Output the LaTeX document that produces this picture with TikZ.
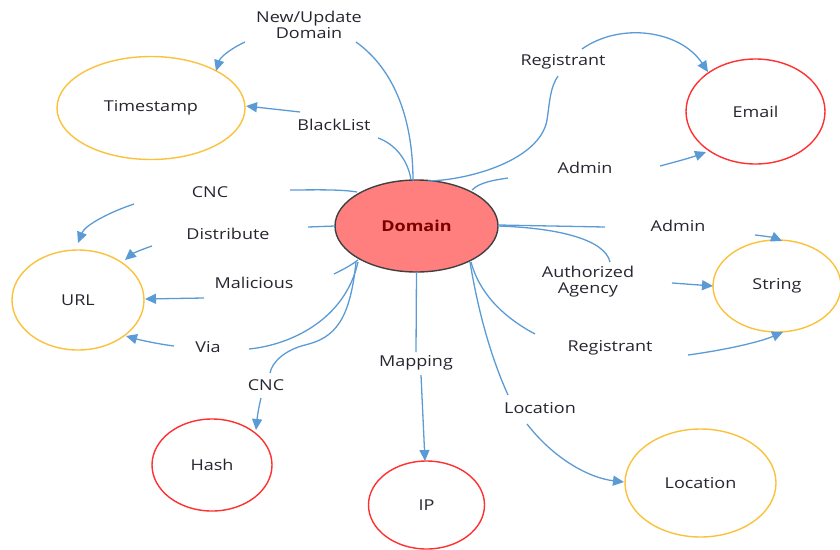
\documentclass[tikz,border=0pt]{standalone}
\usepackage{fontspec}
\setmainfont{Open Sans}[FakeStretch=1.2]
\usetikzlibrary{shapes.geometric,arrows.meta}
\definecolor{lineblue}{HTML}{5B9BD5}
\definecolor{ylw}{HTML}{FAC23A}
\definecolor{rd}{HTML}{FF3030}
\definecolor{domfill}{HTML}{FF7F7F}
\definecolor{domtext}{HTML}{7A0000}
\definecolor{txt}{HTML}{262630}
\tikzset{
  ent/.style={ellipse, draw, line width=1.4pt, inner sep=0pt, text=txt, font=\fontsize{15}{17}\selectfont},
  yent/.style={ent, draw=ylw},
  rent/.style={ent, draw=rd},
  lbl/.style={text=txt, font=\fontsize{15}{18}\selectfont, align=center, inner sep=1pt},
  link/.style={draw=lineblue, line width=1.3pt},
  arr/.style={link, -{Triangle[length=11pt,width=10pt]}}
}
\begin{document}
\begin{tikzpicture}[x=1pt,y=-1pt]
\useasboundingbox (0,0) rectangle (840,549);
% entities
\node[ent, fill=domfill, draw=black!75, minimum width=163pt, minimum height=92pt, text=domtext, font=\fontsize{15}{17}\selectfont\bfseries] (dom) at (416.5,226) {Domain};
\node[yent, minimum width=188pt, minimum height=103pt] (ts) at (151,108) {Timestamp};
\node[rent, minimum width=139pt, minimum height=105pt] (email) at (755.5,111.5) {Email};
\node[yent, minimum width=132pt, minimum height=100pt] (url) at (78,300) {URL};
\node[yent, minimum width=128pt, minimum height=92pt] (str) at (777,286) {String};
\node[rent, minimum width=120pt, minimum height=92pt] (hash) at (212,465) {Hash};
\node[rent, minimum width=116pt, minimum height=88pt] (ip) at (426.5,505) {IP};
\node[yent, minimum width=151pt, minimum height=108pt] (loc) at (700.5,483) {Location};
% labels
\node[lbl] (lnu) at (309,25) {New/Update\\[-2pt]Domain};
\node[lbl] (lbl1) at (334,125) {BlackList};
\node[lbl] (lcnc1) at (210,192) {CNC};
\node[lbl] (ldist) at (228,234) {Distribute};
\node[lbl] (lmal) at (254,283) {Malicious};
\node[lbl] (lvia) at (208,347) {Via};
\node[lbl] (lcnc2) at (266,385) {CNC};
\node[lbl] (lmap) at (416,363) {Mapping};
\node[lbl] (lloc) at (540,408) {Location};
\node[lbl] (lreg2) at (610,348) {Registrant};
\node[lbl] (laa) at (588,282) {Authorized\\[-2pt]Agency};
\node[lbl] (ladm2) at (678,226) {Admin};
\node[lbl] (ladm1) at (585,168) {Admin};
\node[lbl] (lreg1) at (563,62) {Registrant};
% endpoints
\coordinate (a1) at (413,181);  \coordinate (b1) at (356,42);
\coordinate (c1) at (245,42);   \coordinate (e1) at (216,71);
\coordinate (a2) at (411,180);  \coordinate (b2) at (378,138);
\coordinate (c2) at (300,112);  \coordinate (e2) at (246,106);
\coordinate (a3) at (357,192);  \coordinate (b3) at (290,190);
\coordinate (c3) at (134,204);  \coordinate (e3) at (78,243);
\coordinate (a4) at (335,226);  \coordinate (b4) at (308,227);
\coordinate (c4) at (152,246);  \coordinate (e4) at (125,260);
\coordinate (a5) at (358,260);  \coordinate (b5) at (334,274);
\coordinate (c5) at (204,298);  \coordinate (e5) at (145,299);
\coordinate (a6) at (358,262);  \coordinate (b6) at (249,349);
\coordinate (c6) at (174,346);  \coordinate (e6) at (126,336);
\coordinate (a7) at (356,262);  \coordinate (b7) at (270,373);
\coordinate (c7) at (261,398);  \coordinate (e7) at (256,430);
\coordinate (a8) at (416.5,272);\coordinate (b8) at (416,352);
\coordinate (c8) at (421,375);  \coordinate (e8) at (425,461);
\coordinate (a9) at (470,262);  \coordinate (b9) at (508,395);
\coordinate (c9) at (527,424);  \coordinate (e9) at (624,482);
\coordinate (a10) at (471,262); \coordinate (b10) at (535,334);
\coordinate (c10) at (688,355); \coordinate (e10) at (783,332);
\coordinate (a11) at (498,226); \coordinate (b11) at (610,262);
\coordinate (c11) at (672,283); \coordinate (e11) at (713,286);
\coordinate (a12) at (498,225); \coordinate (b12) at (605,227);
\coordinate (c12) at (755,235); \coordinate (e12) at (782,241);
\coordinate (a13) at (472,190); \coordinate (b13) at (508,178);
\coordinate (c13) at (660,166); \coordinate (e13) at (706,152);
\coordinate (a14) at (428,181); \coordinate (b14) at (558,76);
\coordinate (c14) at (582,49);  \coordinate (e14) at (708,72);
% New/Update Domain
\draw[link] (a1) .. controls (413,120) and (395,70) .. (b1);
\draw[arr] (c1) .. controls (228,50) and (220,58) .. (e1);
% BlackList
\draw[link] (a2) .. controls (408,160) and (395,144) .. (b2);
\draw[arr] (c2) -- (e2);
% CNC (url)
\draw[link] (a3) .. controls (340,189) and (310,190) .. (b3);
\draw[arr] (c3) .. controls (110,212) and (85,225) .. (e3);
% Distribute
\draw[link] (a4) -- (b4);
\draw[arr] (c4) .. controls (140,250) and (132,254) .. (e4);
% Malicious
\draw[link] (a5) .. controls (350,266) and (342,270) .. (b5);
\draw[arr] (c5) -- (e5);
% Via
\draw[link] (a6) .. controls (345,320) and (290,345) .. (b6);
\draw[arr] (c6) .. controls (158,344) and (140,340) .. (e6);
% CNC (hash)
\draw[link] (a7) .. controls (350,320) and (335,338) .. (305,345) .. controls (285,350) and (272,362) .. (b7);
\draw[arr] (c7) .. controls (258,410) and (257,420) .. (e7);
% Mapping
\draw[link] (a8) -- (b8);
\draw[arr] (c8) -- (e8);
% Location
\draw[link] (a9) .. controls (478,310) and (490,355) .. (b9);
\draw[arr] (c9) .. controls (555,460) and (590,478) .. (e9);
% Registrant (string)
\draw[link] (a10) .. controls (480,295) and (505,318) .. (b10);
\draw[arr] (c10) .. controls (725,350) and (760,342) .. (e10);
% Authorized Agency
\draw[link] (a11) .. controls (560,228) and (605,240) .. (b11);
\draw[arr] (c11) -- (e11);
% Admin (string)
\draw[link] (a12) -- (b12);
\draw[arr] (c12) .. controls (765,236) and (775,238) .. (e12);
% Admin (email)
\draw[link] (a13) .. controls (480,182) and (495,180) .. (b13);
\draw[arr] (c13) .. controls (675,162) and (690,158) .. (e13);
% Registrant (email)
\draw[link] (a14) .. controls (470,180) and (540,160) .. (547,120) .. controls (550,100) and (550,88) .. (b14);
\draw[arr] (c14) .. controls (620,22) and (680,30) .. (e14);
\end{tikzpicture}
\end{document}
